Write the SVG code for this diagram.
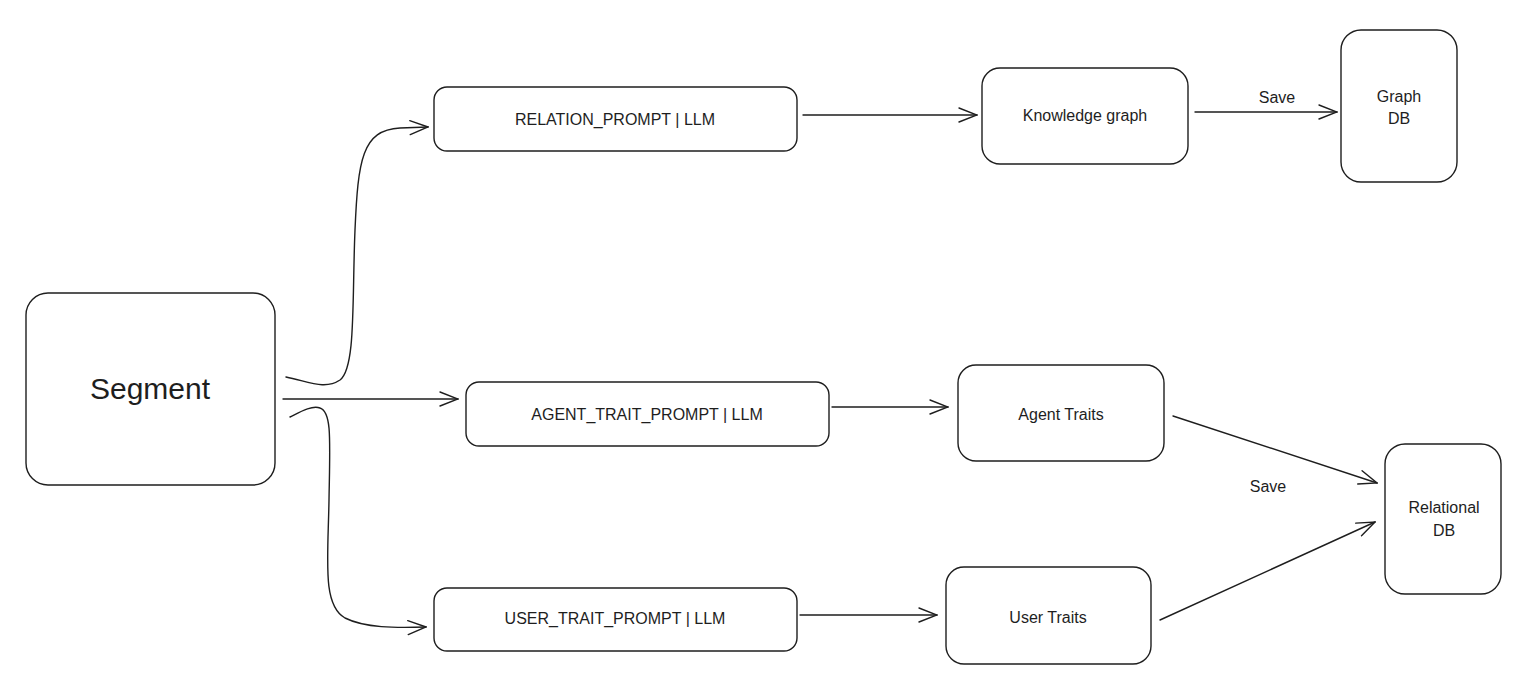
<svg xmlns="http://www.w3.org/2000/svg" width="1529" height="692" viewBox="0 0 1529 692">
<defs>
<style>
.box{fill:#ffffff;stroke:#1e1e1e;stroke-width:1.4}
.edge{fill:none;stroke:#1e1e1e;stroke-width:1.4;stroke-linecap:round}
.t{font-family:"Liberation Sans","DejaVu Sans",sans-serif;fill:#1e1e1e;text-anchor:middle;dominant-baseline:central}
.s{font-size:16px}
.l{font-size:30px}
</style>
<marker id="ah" viewBox="0 0 20 16" refX="19" refY="8" markerWidth="20" markerHeight="16" markerUnits="userSpaceOnUse" orient="auto">
<path d="M1,1 L19,8 L1,15" fill="none" stroke="#1e1e1e" stroke-width="1.4" stroke-linecap="round"/>
</marker>
</defs>
<rect width="1529" height="692" fill="#ffffff"/>
<g id="connectors">
<path class="edge" marker-end="url(#ah)" d="M286,377 C310,382 325,390 340,380 C356,368 352,300 355,230 C358,160 362,130 400,128 L428,127"/>
<path class="edge" marker-end="url(#ah)" d="M283,399 L458,399"/>
<path class="edge" marker-end="url(#ah)" d="M290,417 C300,412 312,405 320,408 C332,412 330,440 329,500 C328,560 322,605 345,618 C365,628 395,628 426,627"/>
<path class="edge" marker-end="url(#ah)" d="M803,115 L977,115"/>
<path class="edge" marker-end="url(#ah)" d="M1195,112 L1337,112"/>
<path class="edge" marker-end="url(#ah)" d="M832,407 L948,407"/>
<path class="edge" marker-end="url(#ah)" d="M800,615 L937,615"/>
<path class="edge" marker-end="url(#ah)" d="M1173,416 L1377,483"/>
<path class="edge" marker-end="url(#ah)" d="M1160,620 L1375,522"/>
<text class="t s" x="1277" y="97">Save</text>
<text class="t s" x="1268" y="486">Save</text>
</g>
<g id="segment">
<rect class="box" x="26" y="293" width="249" height="192" rx="22"/>
<text class="t l" x="150" y="388">Segment</text>
</g>
<g id="relation-prompt">
<rect class="box" x="434" y="87" width="363" height="64" rx="13"/>
<text class="t s" x="615" y="119">RELATION_PROMPT | LLM</text>
</g>
<g id="agent-prompt">
<rect class="box" x="466" y="382" width="363" height="64" rx="13"/>
<text class="t s" x="647" y="414">AGENT_TRAIT_PROMPT | LLM</text>
</g>
<g id="user-prompt">
<rect class="box" x="434" y="588" width="363" height="63" rx="13"/>
<text class="t s" x="615" y="618">USER_TRAIT_PROMPT | LLM</text>
</g>
<g id="knowledge-graph">
<rect class="box" x="982" y="68" width="206" height="96" rx="18"/>
<text class="t s" x="1085" y="115">Knowledge graph</text>
</g>
<g id="graph-db">
<rect class="box" x="1341" y="30" width="116" height="152" rx="20"/>
<text class="t s" x="1399" y="96">Graph</text>
<text class="t s" x="1399" y="118">DB</text>
</g>
<g id="agent-traits">
<rect class="box" x="958" y="365" width="206" height="96" rx="18"/>
<text class="t s" x="1061" y="414">Agent Traits</text>
</g>
<g id="user-traits">
<rect class="box" x="946" y="567" width="205" height="97" rx="18"/>
<text class="t s" x="1048" y="617">User Traits</text>
</g>
<g id="relational-db">
<rect class="box" x="1385" y="444" width="116" height="150" rx="20"/>
<text class="t s" x="1444" y="507">Relational</text>
<text class="t s" x="1444" y="530">DB</text>
</g>
</svg>
